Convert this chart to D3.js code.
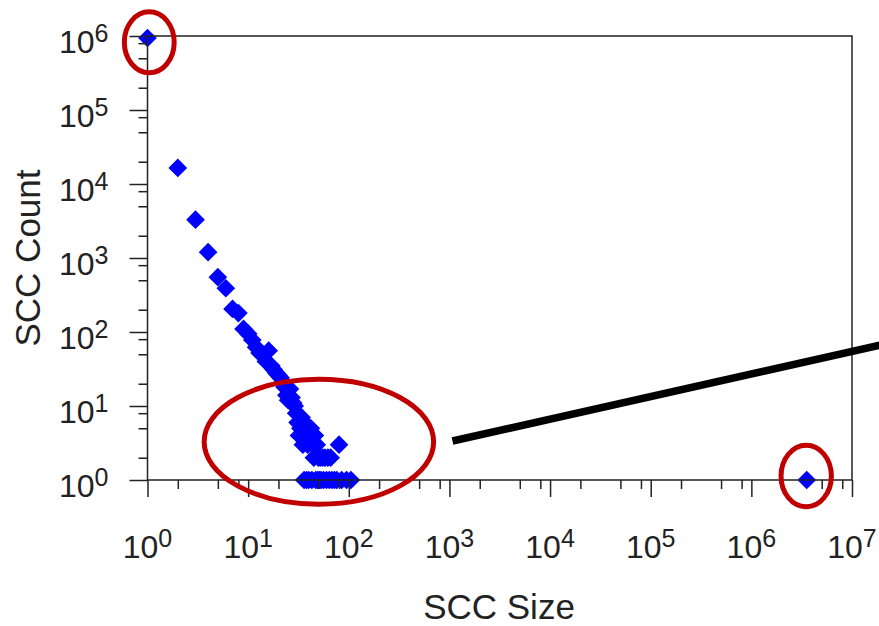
<!DOCTYPE html>
<html>
<head>
<meta charset="utf-8">
<script src="https://cdnjs.cloudflare.com/ajax/libs/d3/7.8.5/d3.min.js"></script>
<style>
  body { margin: 0; background: #fff; }
  svg { display: block; font-family: "Liberation Sans", Arial, sans-serif; }
</style>
</head>
<body>
<div id="chart"></div>
<script>
// SCC size distribution (log-log)
var sccSize = [1, 2, 3, 4, 5, 6, 7, 8, 9, 10, 11, 12, 13, 14, 15, 16, 17, 18, 19, 20,
  21, 22, 23, 24, 25, 26, 27, 28, 29, 30, 31, 32, 33, 34, 35, 36, 37, 38, 39, 40,
  42, 44, 45, 46, 48, 50, 52, 55, 58, 62, 66, 80,
  36, 38, 40, 43, 47, 49, 51, 53, 56, 60, 64, 68, 72, 76, 85, 95, 105,
  3550000];
var sccCount = [940000, 16500, 3300, 1200, 550, 390, 205, 180, 110, 95, 78, 62, 52, 48, 40, 56, 35, 31, 28, 26,
  24, 21, 18, 14, 12, 17, 13, 11, 10, 8, 6, 4, 5, 7, 3, 6, 4, 5, 3, 4,
  5, 3, 2, 4, 3, 2, 2, 2, 2, 2, 2, 3,
  1, 1, 1, 1, 1, 1, 1, 1, 1, 1, 1, 1, 1, 1, 1, 1, 1,
  1];

var xExponents = [0, 1, 2, 3, 4, 5, 6, 7];
var yExponents = [0, 1, 2, 3, 4, 5, 6];
var minorSteps = [2, 5, 8];

// annotation ellipses, given as data-space boxes [xmin, xmax, ymin, ymax]
var circledRegions = [
  [Math.pow(10, -0.255), Math.pow(10, 0.29), Math.pow(10, 5.47), Math.pow(10, 6.36)],
  [Math.pow(10, 0.538), Math.pow(10, 2.868), Math.pow(10, -0.361), Math.pow(10, 1.396)],
  [Math.pow(10, 6.27), Math.pow(10, 6.82), Math.pow(10, -0.396), Math.pow(10, 0.504)]
];
// black pointer line, data-space endpoints
var pointerLine = [[Math.pow(10, 3.03), Math.pow(10, 0.527)], [Math.pow(10, 7.3), Math.pow(10, 1.83)]];

var W = 879, H = 626;
var margin = {top: 36, right: 27, bottom: 146, left: 147.5},
    width = W - margin.left - margin.right,
    height = H - margin.top - margin.bottom;

var svg = d3.select("#chart").append("svg")
  .attr("width", W)
  .attr("height", H);

var x = d3.scaleLog().domain([1, 1e7]).range([margin.left, margin.left + width]);
var y = d3.scaleLog().domain([1, 1e6]).range([margin.top + height, margin.top]);

var data = sccSize.map(function(s, i) { return {size: s, count: sccCount[i]}; });

// points
var diamond = d3.symbol().type(d3.symbolSquare).size(175);
svg.append("g").selectAll("path")
  .data(data)
  .enter().append("path")
  .attr("d", diamond)
  .attr("transform", function(d) { return "translate(" + x(d.size) + "," + y(d.count) + ") rotate(45)"; })
  .attr("fill", "#0000ff");

// ticks
var xMajor = xExponents.map(function(e) { return Math.pow(10, e); });
var yMajor = yExponents.map(function(e) { return Math.pow(10, e); });
var xMinor = [], yMinor = [];
xExponents.slice(0, -1).forEach(function(e) {
  minorSteps.forEach(function(m) { xMinor.push(m * Math.pow(10, e)); });
});
yExponents.slice(0, -1).forEach(function(e) {
  minorSteps.forEach(function(m) { yMinor.push(m * Math.pow(10, e)); });
});

function styleAxis(g) {
  g.select(".domain").remove();
  g.selectAll("line").attr("stroke", "#222").attr("stroke-width", 1.5);
  g.selectAll("text").remove();
}

svg.append("g")
  .attr("transform", "translate(0," + (margin.top + height) + ")")
  .call(d3.axisBottom(x).tickValues(xMinor).tickSize(9).tickFormat(""))
  .call(styleAxis);
svg.append("g")
  .attr("transform", "translate(0," + (margin.top + height) + ")")
  .call(d3.axisBottom(x).tickValues(xMajor).tickSize(17).tickFormat(""))
  .call(styleAxis);
svg.append("g")
  .attr("transform", "translate(" + margin.left + ",0)")
  .call(d3.axisLeft(y).tickValues(yMinor).tickSize(9).tickFormat(""))
  .call(styleAxis);
svg.append("g")
  .attr("transform", "translate(" + margin.left + ",0)")
  .call(d3.axisLeft(y).tickValues(yMajor).tickSize(18).tickFormat(""))
  .call(styleAxis);

// frame
svg.append("rect")
  .attr("x", margin.left)
  .attr("y", margin.top)
  .attr("width", width)
  .attr("height", height)
  .attr("fill", "none")
  .attr("stroke", "#222")
  .attr("stroke-width", 1.5);

// tick labels with superscript
function powLabel(sel) {
  sel.append("tspan").text("10");
  sel.append("tspan")
    .attr("dy", -11)
    .style("font-size", "25px")
    .text(function(e) { return e; });
}

svg.append("g").selectAll("text")
  .data(xExponents)
  .enter().append("text")
  .attr("x", function(e) { return x(Math.pow(10, e)); })
  .attr("y", 558)
  .attr("text-anchor", "middle")
  .attr("fill", "#222")
  .style("font-size", "32px")
  .call(powLabel);

svg.append("g").selectAll("text")
  .data(yExponents)
  .enter().append("text")
  .attr("x", 108.5)
  .attr("y", function(e) { return y(Math.pow(10, e)) + 17; })
  .attr("text-anchor", "end")
  .attr("fill", "#222")
  .style("font-size", "32px")
  .call(powLabel);

// axis titles
svg.append("text")
  .attr("x", 499)
  .attr("y", 619)
  .attr("text-anchor", "middle")
  .attr("fill", "#222")
  .style("font-size", "35px")
  .text("SCC Size");

svg.append("text")
  .attr("transform", "translate(40," + 258 + ") rotate(-90)")
  .attr("text-anchor", "middle")
  .attr("fill", "#222")
  .style("font-size", "35px")
  .text("SCC Count");

// annotations
svg.append("path")
  .datum(pointerLine)
  .attr("d", d3.line().x(function(d) { return x(d[0]); }).y(function(d) { return y(d[1]); }))
  .attr("stroke", "#000")
  .attr("stroke-width", 7.5)
  .attr("fill", "none");

svg.append("g").selectAll("ellipse")
  .data(circledRegions)
  .enter().append("ellipse")
  .attr("cx", function(d) { return (x(d[0]) + x(d[1])) / 2; })
  .attr("cy", function(d) { return (y(d[2]) + y(d[3])) / 2; })
  .attr("rx", function(d) { return (x(d[1]) - x(d[0])) / 2 - 2.5; })
  .attr("ry", function(d) { return (y(d[2]) - y(d[3])) / 2 - 2.5; })
  .attr("fill", "none")
  .attr("stroke", "#c00000")
  .attr("stroke-width", 5);
</script>
</body>
</html>
